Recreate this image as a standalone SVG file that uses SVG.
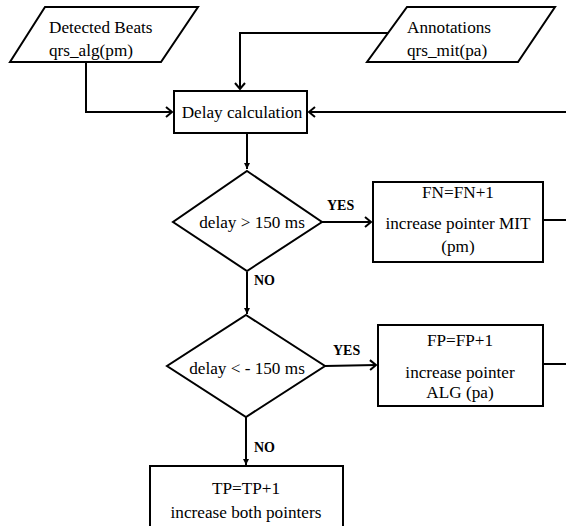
<svg xmlns="http://www.w3.org/2000/svg" width="566" height="526" viewBox="0 0 566 526">
<defs>
<style>
.s{fill:#fff;stroke:#000;stroke-width:2}
.c{fill:none;stroke:#000;stroke-width:2}
.t{font-family:"Liberation Serif","Times New Roman",serif;font-size:17.2px;fill:#000}
.m{text-anchor:middle}
.b{font-family:"Liberation Serif","Times New Roman",serif;font-size:14px;font-weight:bold;fill:#000}
</style>
<marker id="open" markerWidth="12" markerHeight="12" refX="9" refY="6" orient="auto" markerUnits="userSpaceOnUse">
<path d="M3,1 L9,6 L3,11" fill="none" stroke="#000" stroke-width="2"/>
</marker>
<marker id="fill" markerWidth="10" markerHeight="10" refX="8" refY="5" orient="auto" markerUnits="userSpaceOnUse">
<path d="M2,2 L8,5 L2,8 Z" fill="#000"/>
</marker>
</defs>
<rect width="566" height="526" fill="#fff"/>
<g id="connectors">
<path class="c" d="M86,62 V112 H172" marker-end="url(#open)"/>
<path class="c" d="M388,33 H240 V89" marker-end="url(#open)"/>
<path class="c" d="M566,112 H309" marker-end="url(#open)"/>
<path class="c" d="M247,133 V169" marker-end="url(#fill)"/>
<path class="c" d="M322,222 H371" marker-end="url(#open)"/>
<path class="c" d="M543,220 H566"/>
<path class="c" d="M247,272 V314" marker-end="url(#fill)"/>
<path class="c" d="M325,366 L376,365" marker-end="url(#open)"/>
<path class="c" d="M543,364 H566"/>
<path class="c" d="M246,417 V465" marker-end="url(#fill)"/>
</g>
<g id="detected">
<polygon class="s" points="45,7 198,7 161,62 10,62"/>
<text class="t" x="49" y="33">Detected Beats</text>
<text class="t" x="49" y="56">qrs_alg(pm)</text>
</g>
<g id="annotations">
<polygon class="s" points="407,7 555,7 518,62 367,62"/>
<text class="t" x="407" y="33">Annotations</text>
<text class="t" x="407" y="56">qrs_mit(pa)</text>
</g>
<g id="delay">
<rect class="s" x="174" y="91" width="133" height="42"/>
<text class="t m" x="242" y="118">Delay calculation</text>
</g>
<g id="cond1">
<polygon class="s" points="247,171 322,222 247,271 173,222"/>
<text class="t m" x="252" y="228">delay &gt; 150 ms</text>
<text class="b" x="327" y="210">YES</text>
<text class="b" x="254" y="285">NO</text>
</g>
<g id="fn">
<rect class="s" x="373" y="182" width="170" height="80"/>
<text class="t m" x="458" y="198">FN=FN+1</text>
<text class="t m" x="458" y="229">increase pointer MIT</text>
<text class="t m" x="458" y="252">(pm)</text>
</g>
<g id="cond2">
<polygon class="s" points="246,315 325,366 246,417 167,366"/>
<text class="t m" x="247" y="374">delay &lt; - 150 ms</text>
<text class="b" x="333" y="355">YES</text>
<text class="b" x="254" y="452">NO</text>
</g>
<g id="fp">
<rect class="s" x="378" y="325" width="165" height="81"/>
<text class="t m" x="460" y="346">FP=FP+1</text>
<text class="t m" x="460" y="378">increase pointer</text>
<text class="t m" x="460" y="398">ALG (pa)</text>
</g>
<g id="tp">
<rect class="s" x="150" y="466" width="193" height="62"/>
<text class="t m" x="246" y="494">TP=TP+1</text>
<text class="t m" x="246" y="518">increase both pointers</text>
</g>
</svg>
